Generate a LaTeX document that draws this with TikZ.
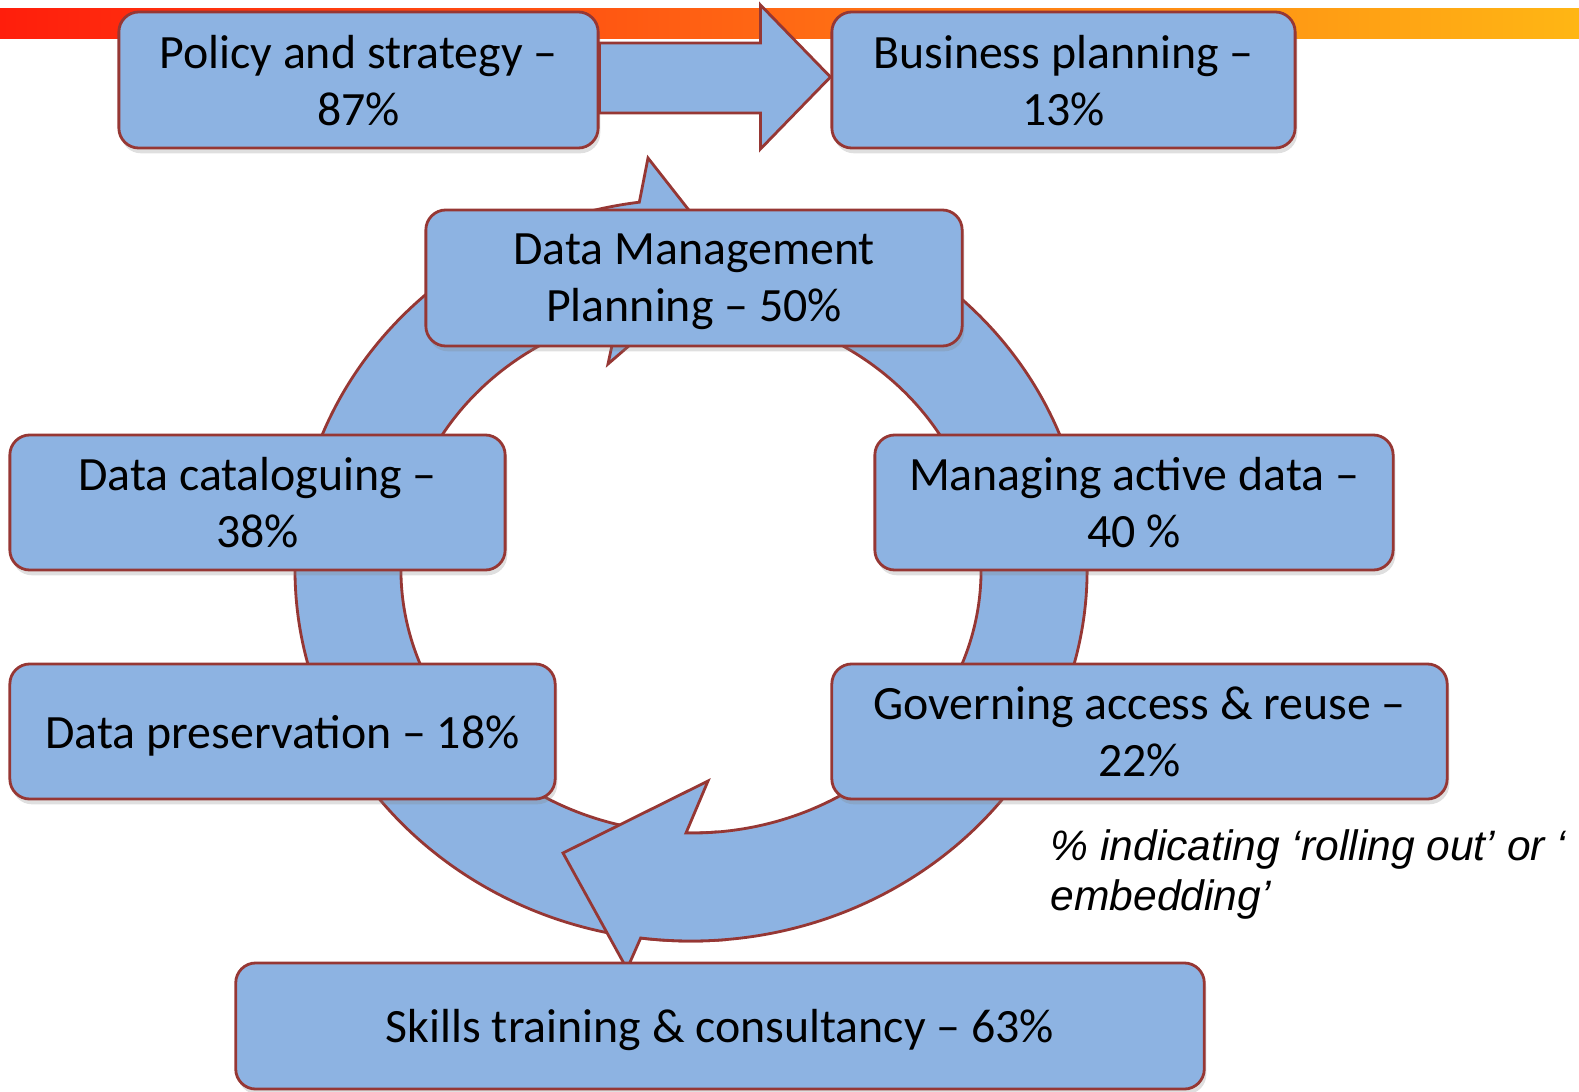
\documentclass[tikz,border=0pt]{standalone}
\usepackage{fontspec}
\setmainfont{Carlito}
\newfontfamily\notefont{Liberation Sans}
\usetikzlibrary{shadows}
\definecolor{boxblue}{RGB}{141,179,226}
\definecolor{boxedge}{RGB}{150,55,52}
\definecolor{barred}{RGB}{255,30,12}
\definecolor{barorange}{RGB}{255,105,20}
\definecolor{baramber}{RGB}{255,182,20}
\begin{document}
\begin{tikzpicture}[x=0.01cm,y=0.01cm,
    stage/.style={draw=boxedge,fill=boxblue,line width=0.8pt,rounded corners=0.2cm,
      align=center,inner sep=0pt,text depth=0pt,font=\fontsize{13.6pt}{16.2pt}\selectfont,
      drop shadow={opacity=0.25,shadow xshift=0.6pt,shadow yshift=-1.5pt}},
    ringarrow/.style={draw=boxedge,fill=boxblue,line width=0.8pt,line join=miter}]
  \useasboundingbox (0,0) rectangle (1579,-1091);
  \shade[left color=barred,right color=barorange] (0,-9) rectangle (790,-39);
  \shade[left color=barorange,right color=baramber] (789,-9) rectangle (1579,-39);
  \draw[ringarrow] (691,-570) ++(275:396 and 371)
    arc[start angle=275,end angle=97.5,x radius=396,y radius=371]
    -- (648,-158) -- (728,-260) -- (608,-364) -- (618.4,-315.4)
    arc[start angle=104.5,end angle=275,x radius=290,y radius=263] -- cycle;
  \draw[ringarrow] (691,-570) ++(70:396 and 371)
    arc[start angle=70,end angle=-97.3,x radius=396,y radius=371]
    -- (627,-969) -- (563,-853) -- (708,-781) -- (686,-833)
    arc[start angle=-91,end angle=70,x radius=290,y radius=263] -- cycle;
  \node[stage,minimum width=4.79cm,minimum height=1.36cm] (policy) at (358.5,-80) {Policy and strategy --\\87\%};
  \node[stage,minimum width=4.63cm,minimum height=1.36cm] (business) at (1063.5,-80) {Business planning --\\13\%};
  \node[stage,minimum width=5.36cm,minimum height=1.36cm] (dmp) at (694,-278) {Data Management\\Planning -- 50\%};
  \node[stage,minimum width=4.95cm,minimum height=1.35cm] (catalog) at (257.5,-502.5) {Data cataloguing --\\38\%};
  \node[stage,minimum width=5.18cm,minimum height=1.35cm] (active) at (1134,-502.5) {Managing active data --\\40 \%};
  \node[stage,minimum width=5.45cm,minimum height=1.35cm] (preserve) at (282.5,-731.5) {Data preservation -- 18\%};
  \node[stage,minimum width=6.15cm,minimum height=1.35cm] (access) at (1139.5,-731.5) {Governing access \& reuse --\\22\%};
  \node[stage,minimum width=9.68cm,minimum height=1.26cm] (skills) at (720,-1026) {Skills training \& consultancy -- 63\%};
  \draw[ringarrow] ([yshift=0.37cm]policy.east) -- ([xshift=-0.7cm,yshift=0.37cm]business.west)
    -- ([xshift=-0.7cm,yshift=0.75cm]business.west) -- ([yshift=0.03cm]business.west)
    -- ([xshift=-0.7cm,yshift=-0.69cm]business.west) -- ([xshift=-0.7cm,yshift=-0.33cm]business.west)
    -- ([yshift=-0.33cm]policy.east) -- cycle;
  \node[anchor=north west,align=left,inner sep=0pt,
    font=\notefont\itshape\fontsize{12.1pt}{14.2pt}\selectfont] (note) at (1050,-829)
    {\% indicating ‘rolling out’ or ‘\\embedding’};
\end{tikzpicture}
\end{document}
